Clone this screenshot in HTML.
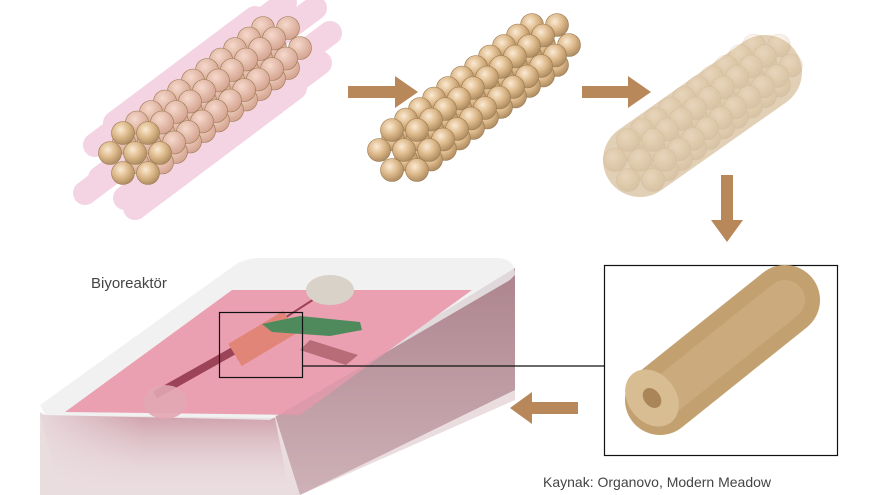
<!DOCTYPE html>
<html><head><meta charset="utf-8"><style>
html,body{margin:0;padding:0;background:#fff;}
svg{display:block;}
text{font-family:"Liberation Sans",sans-serif;}
</style></head><body>
<svg id="s" width="880" height="495" viewBox="0 0 880 495" xmlns="http://www.w3.org/2000/svg">
<defs>
<radialGradient id="bead" cx="0.4" cy="0.35" r="0.7">
<stop offset="0" stop-color="#fbead4"/><stop offset="0.5" stop-color="#ddb98a"/><stop offset="1" stop-color="#a9875c"/>
</radialGradient>
<radialGradient id="beadp" cx="0.4" cy="0.35" r="0.7">
<stop offset="0" stop-color="#f6d9cc"/><stop offset="1" stop-color="#d2a08c"/>
</radialGradient>
<linearGradient id="front" x1="0" y1="0" x2="0" y2="1">
<stop offset="0" stop-color="#d9a7b3"/><stop offset="1" stop-color="#fff" stop-opacity="0"/>
</linearGradient>
<linearGradient id="frontx" x1="0" y1="0" x2="1" y2="0">
<stop offset="0" stop-color="#fff" stop-opacity="0.9"/><stop offset="0.4" stop-color="#fff" stop-opacity="0"/>
</linearGradient>
<linearGradient id="side" x1="0" y1="0" x2="0" y2="1">
<stop offset="0" stop-color="#a77f8a"/><stop offset="1" stop-color="#d8c1c6"/>
</linearGradient>
</defs>
<g id="pinkbg" opacity="0.5"></g>
<g id="c1"></g>
<g id="c2"></g>
<g opacity="0.8">
<line x1="640" y1="160" x2="765" y2="72" stroke="#dcc5a5" stroke-width="74" stroke-linecap="round"/>
</g>
<g id="c3" opacity="0.2"></g>
<g fill="#b8875a">
<polygon points="348,86 395,86 395,76 418,92 395,108 395,98 348,98"/>
<polygon points="582,86 628,86 628,76 651,92 628,108 628,98 582,98"/>
<polygon points="721,175 733,175 733,220 743,220 727,242 711,220 721,220"/>
<polygon points="578,402 532,402 532,392 510,408 532,424 532,414 578,414"/>
</g>
<rect x="604.5" y="265.5" width="233" height="190" fill="none" stroke="#111" stroke-width="1.2"/>
<line x1="660" y1="400" x2="785" y2="300" stroke="#c2a06f" stroke-width="70" stroke-linecap="round"/>
<line x1="660" y1="400" x2="785" y2="300" stroke="#d2b388" stroke-width="40" stroke-linecap="round" opacity="0.6"/>
<ellipse cx="652" cy="398" rx="24" ry="31" fill="#d8bc92" transform="rotate(-38 652 398)"/>
<ellipse cx="652" cy="398" rx="8" ry="11" fill="#a98557" transform="rotate(-38 652 398)"/>
<!-- bioreactor -->
<polygon points="40,415 275,418 290,495 60,495" fill="url(#front)"/>
<polygon points="40,410 290,410 300,495 40,495" fill="url(#frontx)"/>
<polygon points="275,415 515,268 515,390 300,495" fill="url(#side)"/>
<path d="M40,405 L235,265 Q245,258 260,258 L500,258 Q515,260 515,275 L510,280 L270,420 L45,415 Z" fill="#eeeeee" opacity="0.8"/>
<polygon points="65,412 232,290 472,290 300,415" fill="#eba0b2"/>
<polygon points="40,412 45,415 270,420 510,280 515,275 515,400 300,495 40,495" fill="#b98d98" opacity="0.3"/>
<line x1="155" y1="395" x2="235" y2="350" stroke="#9c4358" stroke-width="8"/>
<line x1="235" y1="350" x2="325" y2="292" stroke="#9c4358" stroke-width="2"/>
<ellipse cx="330" cy="290" rx="24" ry="15" fill="#d8d2c8"/>
<ellipse cx="165" cy="402" rx="22" ry="17" fill="#e2a6b3" opacity="0.9"/>
<line x1="235" y1="355" x2="290" y2="322" stroke="#e08578" stroke-width="26"/>
<polygon points="262,324 300,316 360,322 362,330 330,336 272,332" fill="#4f8a5c"/>
<polygon points="300,350 310,340 358,355 346,365" fill="#b86c78"/>
<rect x="219.5" y="312.5" width="83" height="65" fill="none" stroke="#111" stroke-width="1.2"/>
<line x1="303" y1="366" x2="604" y2="366" stroke="#111" stroke-width="1.2"/>
<text x="91" y="288" font-size="15" fill="#444">Biyoreaktör</text>
<text x="543" y="487" font-size="14" fill="#444">Kaynak: Organovo, Modern Meadow</text>
</svg>
<script>
var NS="http://www.w3.org/2000/svg";
function circ(g,x,y,r,f,o){var c=document.createElementNS(NS,"circle");c.setAttribute("cx",x);c.setAttribute("cy",y);c.setAttribute("r",r);c.setAttribute("fill",f);c.setAttribute("stroke","#9c7a52");c.setAttribute("stroke-width","0.6");if(o)c.setAttribute("opacity",o);g.appendChild(c);}
var hex=[[-12,-20],[13,-20],[-25,0],[25,0],[-12,20],[13,20],[0,0]];
function cyl(id,cx,cy,dx,dy,n,f){var g=document.getElementById(id);
for(var i=n-1;i>=0;i--){hex.forEach(function(h){circ(g,cx+h[0]+dx*i,cy+h[1]+dy*i,11.5,i==0?"url(#bead)":f);});}}
var pg=document.getElementById("pinkbg");
[[-40,-8],[-20,-30],[10,-45],[40,-40],[55,-15],[45,15],[20,40],[-10,45],[-35,25],[-50,40],[0,55]].forEach(function(o){
var l=document.createElementNS(NS,"line");l.setAttribute("x1",135+o[0]);l.setAttribute("y1",153+o[1]);l.setAttribute("x2",275+o[0]);l.setAttribute("y2",48+o[1]);l.setAttribute("stroke","#eaaac8");l.setAttribute("stroke-width","24");l.setAttribute("stroke-linecap","round");pg.appendChild(l);});
cyl("c1",135,153,14,-10.5,11,"url(#beadp)");
cyl("c2",404,150,14,-10.5,11,"url(#bead)");
cyl("c3",640,160,14,-10.5,10,"url(#bead)");
</script>
</body></html>
